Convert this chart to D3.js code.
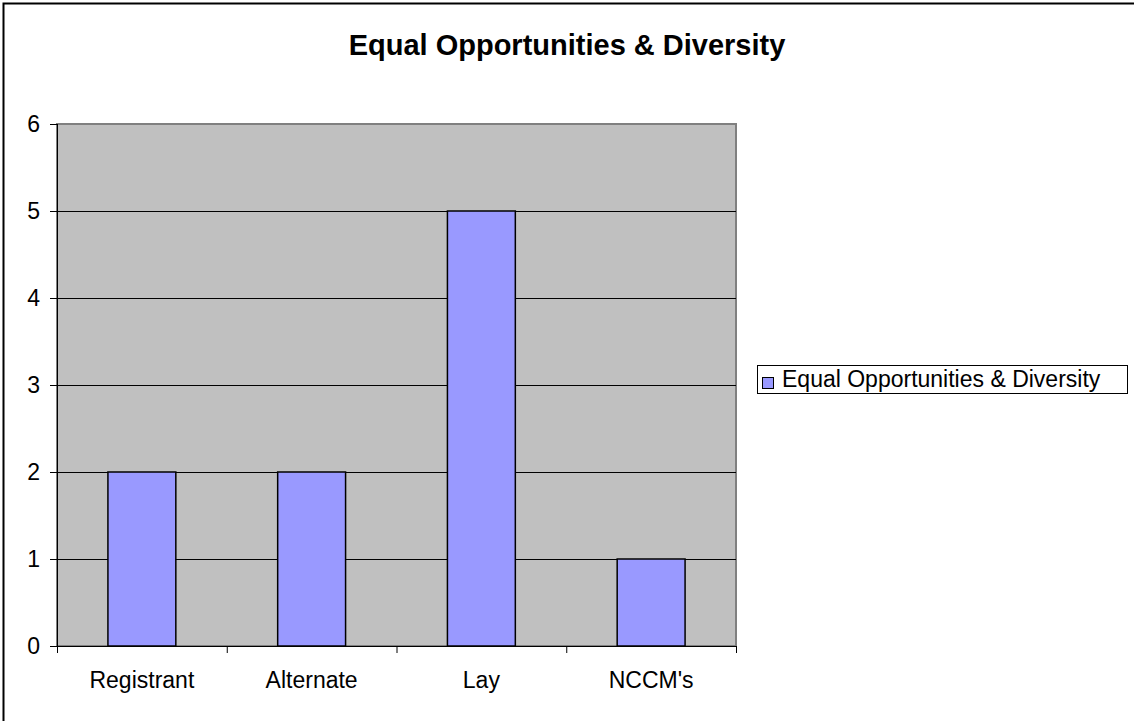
<!DOCTYPE html>
<html>
<head>
<meta charset="utf-8">
<script src="https://cdn.jsdelivr.net/npm/d3@7"></script>
<style>
  body { margin: 0; background: #fff; }
  text { font-family: Arial, "Liberation Sans", sans-serif; fill: #000; }
</style>
</head>
<body>
<div class="chart"></div>
<script>
// data
const categories = ['Registrant', 'Alternate', 'Lay', "NCCM's"];
const values = [2, 2, 5, 1];
const yTicks = [0, 1, 2, 3, 4, 5, 6];
const seriesName = 'Equal Opportunities & Diversity';
const title = 'Equal Opportunities & Diversity';

const svg_width = 1134, svg_height = 721;
const plot = { left: 57, top: 124, right: 736, bottom: 646 };
const labelFont = '23px';

const svg = d3.select('.chart').append('svg')
  .attr('width', svg_width).attr('height', svg_height);

// outer frame (only top & left visible in reference)
svg.append('path')
  .attr('d', `M3.5,${svg_height} L3.5,3.5 L${svg_width},3.5`)
  .style('fill', 'none').style('stroke', '#000').style('stroke-width', 2);

// title
svg.append('text')
  .attr('x', 567).attr('y', 55)
  .attr('text-anchor', 'middle')
  .style('font-size', '29px').style('font-weight', 'bold')
  .text(title);

// scales
const xScale = d3.scaleBand().domain(categories).range([plot.left, plot.right]).paddingInner(0).paddingOuter(0);
const yScale = d3.scaleLinear().domain([0, 6]).range([plot.bottom, plot.top]);

// plot background
svg.append('rect')
  .attr('x', plot.left).attr('y', plot.top)
  .attr('width', plot.right - plot.left).attr('height', plot.bottom - plot.top)
  .style('fill', '#c0c0c0').style('stroke', '#808080').style('stroke-width', 2);

// gridlines
svg.append('g').selectAll('line').data(yTicks.filter(d => d > 0 && d < 6)).enter()
  .append('line')
  .attr('x1', plot.left).attr('x2', plot.right)
  .attr('y1', d => Math.round(yScale(d)) + 0.5).attr('y2', d => Math.round(yScale(d)) + 0.5)
  .style('stroke', '#000').style('stroke-width', 1);

// bars
const barW = xScale.bandwidth() * 0.4;
svg.append('g').selectAll('rect').data(values).enter()
  .append('rect')
  .attr('x', (d, i) => xScale(categories[i]) + (xScale.bandwidth() - barW) / 2)
  .attr('y', d => yScale(d))
  .attr('width', barW)
  .attr('height', d => yScale(0) - yScale(d))
  .style('fill', '#9999ff').style('stroke', '#000').style('stroke-width', 1.5);

// y axis
const yAxis = d3.axisLeft(yScale).tickValues(yTicks).tickSize(7).tickPadding(10).tickFormat(d3.format('d'));
const yG = svg.append('g').attr('transform', `translate(${plot.left},0)`).call(yAxis);
yG.select('.domain').attr('d', `M0.5,${plot.top}V${plot.bottom}`).style('stroke', '#000');
yG.selectAll('text').style('font-size', labelFont).style('font-family', 'Arial, "Liberation Sans", sans-serif');

// x axis
const xAxis = d3.axisBottom(xScale).tickSize(0).tickPadding(42);
const xG = svg.append('g').attr('transform', `translate(0,${plot.bottom})`).call(xAxis);
xG.select('.domain').attr('d', `M${plot.left},0.5H${plot.right}`).style('stroke', '#000');
xG.selectAll('text').attr('dy', 0).style('font-size', labelFont).style('font-family', 'Arial, "Liberation Sans", sans-serif');
// category boundary ticks
xG.append('g').selectAll('line').data(categories.concat(['end'])).enter()
  .append('line')
  .attr('x1', (d, i) => plot.left + i * xScale.bandwidth() + 0.5)
  .attr('x2', (d, i) => plot.left + i * xScale.bandwidth() + 0.5)
  .attr('y1', 0).attr('y2', 7)
  .style('stroke', '#000');

// legend
const legend = svg.append('g').attr('transform', 'translate(757,365)');
legend.append('rect').attr('x', 0.5).attr('y', 0.5).attr('width', 370).attr('height', 28)
  .style('fill', '#fff').style('stroke', '#000');
legend.append('rect').attr('x', 5.5).attr('y', 12.5).attr('width', 11).attr('height', 11)
  .style('fill', '#9999ff').style('stroke', '#000');
legend.append('text').attr('x', 25).attr('y', 22)
  .style('font-size', labelFont).text(seriesName);
</script>
</body>
</html>
